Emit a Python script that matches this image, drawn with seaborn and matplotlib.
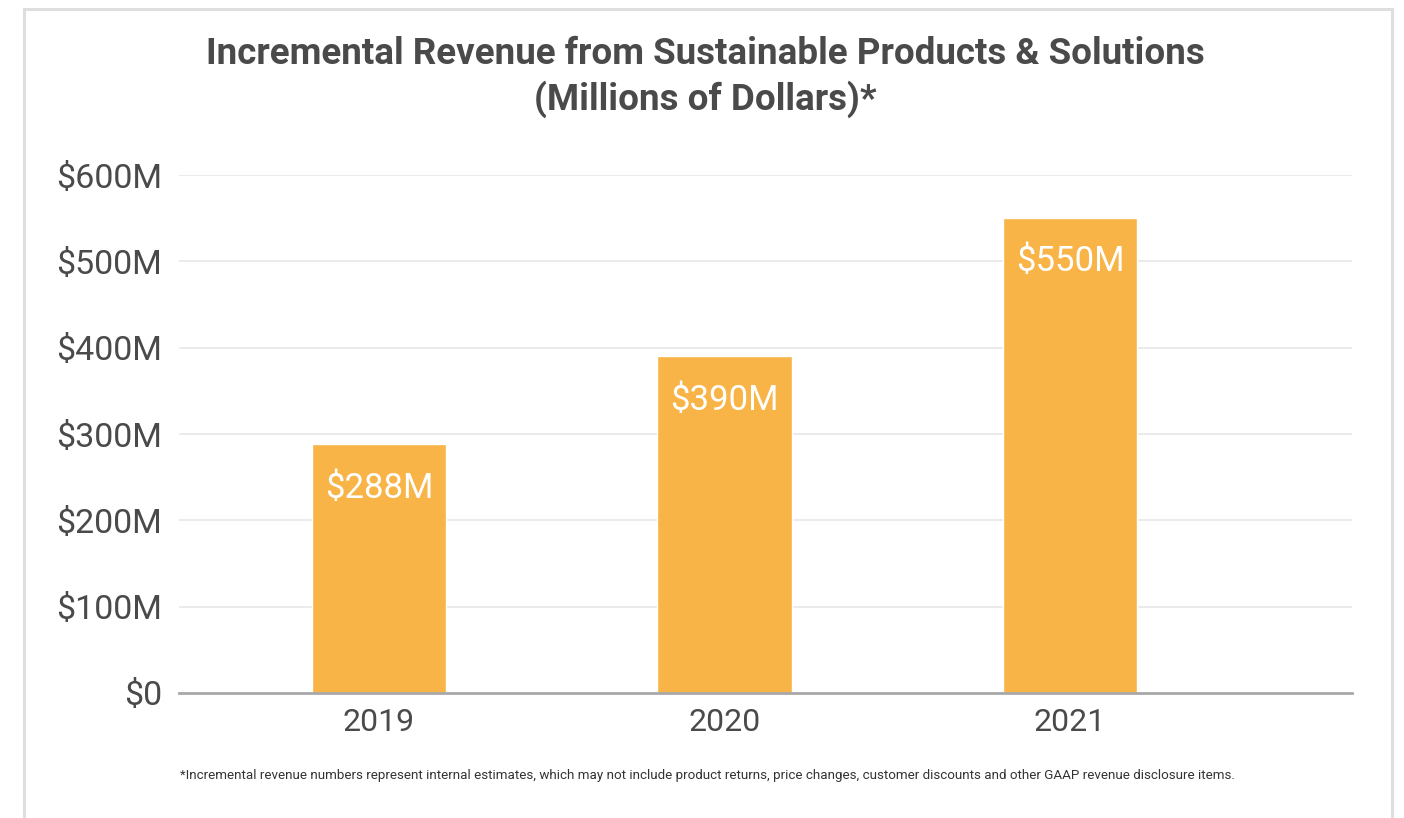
import matplotlib
matplotlib.use("Agg")
import matplotlib.pyplot as plt
from matplotlib.patches import Rectangle
import seaborn as sns
import pandas as pd

years = ["2019", "2020", "2021"]
revenue = [288, 390, 550]
value_labels = ["$288M", "$390M", "$550M"]
y_ticks = [0, 100, 200, 300, 400, 500, 600]
y_tick_labels = ["$0", "$100M", "$200M", "$300M", "$400M", "$500M", "$600M"]

title = "Incremental Revenue from Sustainable Products & Solutions\n(Millions of Dollars)*"
footnote = ("*Incremental revenue numbers represent internal estimates, which may not include product returns, "
            "price changes, customer discounts and other GAAP revenue disclosure items.")

sns.set_theme(style="white")
plt.rcParams["font.family"] = ["Roboto", "DejaVu Sans"]

bar_color = "#F9B447"
text_color = "#4a4a4a"

df = pd.DataFrame({"year": years, "revenue": revenue})

fig = plt.figure(figsize=(14.04, 8.18), dpi=100)
fig.patch.set_facecolor("white")

# light frame around the whole graphic
fig.patches.append(Rectangle((24 / 1404, -0.05), (1392 - 24) / 1404, 1.05 - 9 / 818,
                             transform=fig.transFigure, fill=False,
                             edgecolor="#dedede", linewidth=2.2))

ax = fig.add_axes([179 / 1404, 1 - 693 / 818, (1352 - 179) / 1404, (693 - 175) / 818])
sns.barplot(data=df, x="year", y="revenue", color=bar_color, width=0.39,
            saturation=1, ax=ax, zorder=3)

ax.set_ylim(0, 600)
ax.set_xlim(-0.579, 2.816)
ax.set_yticks(y_ticks)
ax.set_yticklabels(y_tick_labels, fontsize=24.5, color=text_color)
ax.tick_params(axis="y", length=0, pad=12)
ax.tick_params(axis="x", length=0, pad=11, labelsize=23, labelcolor=text_color)
ax.set_xlabel("")
ax.set_ylabel("")
ax.grid(axis="y", color="#e8e8e8", linewidth=1.2, zorder=0)
ax.set_axisbelow(True)
for side in ["left", "right", "top"]:
    ax.spines[side].set_visible(False)
ax.spines["bottom"].set_color("#a8a8a8")
ax.spines["bottom"].set_linewidth(2)
ax.spines["bottom"].set_zorder(4)

for patch, label in zip(ax.patches, value_labels):
    cx = patch.get_x() + patch.get_width() / 2
    top = patch.get_height()
    ax.annotate(label, (cx, top), xytext=(0, -31.5), textcoords="offset points",
                ha="center", va="center", color="white", fontsize=25, zorder=5)

fig.text(705 / 1404, 1 - 77 / 818, title, ha="center", va="center",
         fontsize=26.5, fontweight="bold", color=text_color, linespacing=1.28)
fig.text(180 / 1404, 1 - 775 / 818, footnote, ha="left", va="center",
         fontsize=9.6, color="#333333")

fig.savefig("out.png", dpi=100, facecolor="white")
